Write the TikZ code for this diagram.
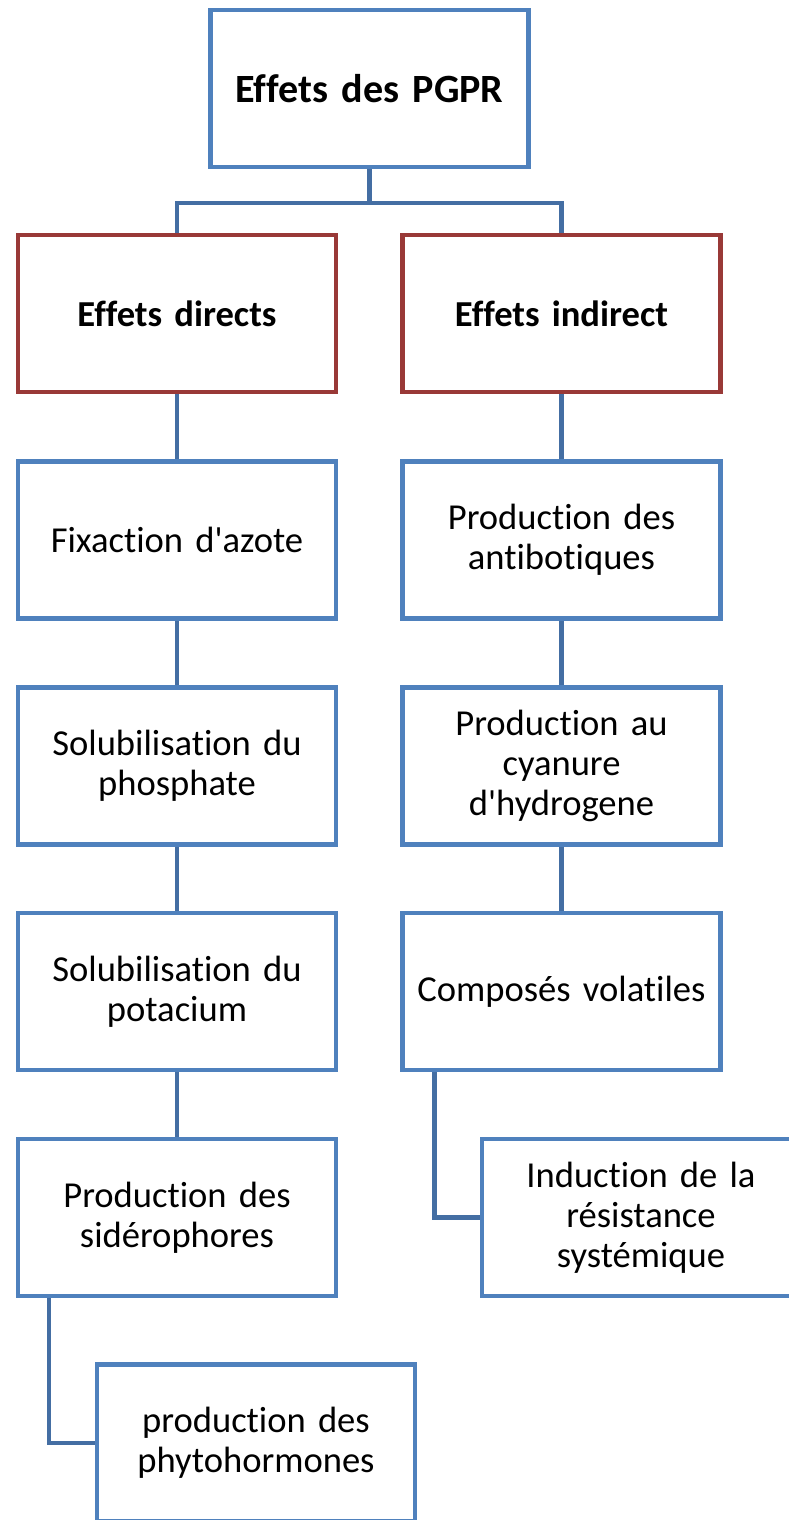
\documentclass[tikz,border=0pt]{standalone}
\usepackage{fontspec}
\setmainfont[Ligatures=NoCommon]{Carlito}
\usetikzlibrary{calc}
\definecolor{boxblue}{RGB}{79,129,189}
\definecolor{linkblue}{RGB}{68,110,163}
\definecolor{boxred}{RGB}{153,57,55}
\tikzset{
  effet/.style={draw=boxblue, line width=0.045cm, fill=white, minimum width=3.18cm, minimum height=1.57cm,
    inner sep=0pt, outer sep=0pt, align=center, text width=3.0cm, font=\fontsize{10.4}{11.4}\selectfont},
  titre/.style={effet, draw=boxred, font=\fontsize{10.4}{11.4}\selectfont\bfseries},
  link/.style={draw=linkblue, line width=0.045cm}
}

\begin{document}
\begin{tikzpicture}[x=0.01cm, y=-0.01cm]
			%%%%% START %%%%%
			\useasboundingbox (0, 0) rectangle (789, 1520);
			\clip (0, 0) rectangle (789, 1520);
			
			% racine
			\node[effet, font=\fontsize{11.4}{12.4}\selectfont\bfseries] (pgpr) at (369.5, 88.5) {Effets des PGPR};
			\coordinate (fork) at (369.5, 203);
			
			% deux branches
			\node[titre] (directs) at (177, 313.5) {Effets directs};
			\node[titre] (indirect) at (561.5, 313.5) {Effets indirect};
			
			% effets directs
			\node[effet] (azote) at (177, 540) {Fixaction d\textquotesingle azote};
			\node[effet] (phosphate) at (177, 766) {Solubilisation du\\phosphate};
			\node[effet] (potacium) at (177, 991.5) {Solubilisation du\\potacium};
			\node[effet] (sidero) at (177, 1217.5) {Production des\\sidérophores};
			\node[effet] (phyto) at (256, 1443) {production des\\phytohormones};
			
			% effets indirects
			\node[effet] (antibio) at (561.5, 540) {Production des\\antibotiques};
			\node[effet] (cyanure) at (561.5, 766) {Production au\\cyanure\\d\textquotesingle hydrogene};
			\node[effet] (volatil) at (561.5, 991.5) {Composés volatiles};
			\node[effet] (isr) at (641, 1217.5) {Induction de la\\résistance\\systémique};
			
			% liens
			\draw[link] (pgpr.south) -- (fork);
			\draw[link] (directs.north) |- (fork) -| (indirect.north);
			
			\draw[link] (directs) -- (azote);
			\draw[link] (azote) -- (phosphate);
			\draw[link] (phosphate) -- (potacium);
			\draw[link] (potacium) -- (sidero);
			\draw[link] ([xshift=0.31cm]sidero.south west) |- (phyto.west);
			
			\draw[link] (indirect) -- (antibio);
			\draw[link] (antibio) -- (cyanure);
			\draw[link] (cyanure) -- (volatil);
			\draw[link] ([xshift=0.32cm]volatil.south west) |- (isr.west);
			
			% redraw boxes on top of links
			\foreach \n in {pgpr, azote, phosphate, potacium, sidero, phyto, antibio, cyanure, volatil, isr}
			  \draw[boxblue, line width=0.045cm] (\n.south west) rectangle (\n.north east);
			\foreach \n in {directs, indirect}
			  \draw[boxred, line width=0.045cm] (\n.south west) rectangle (\n.north east);
			
			%%%%% END %%%%%
\end{tikzpicture}
\end{document}
